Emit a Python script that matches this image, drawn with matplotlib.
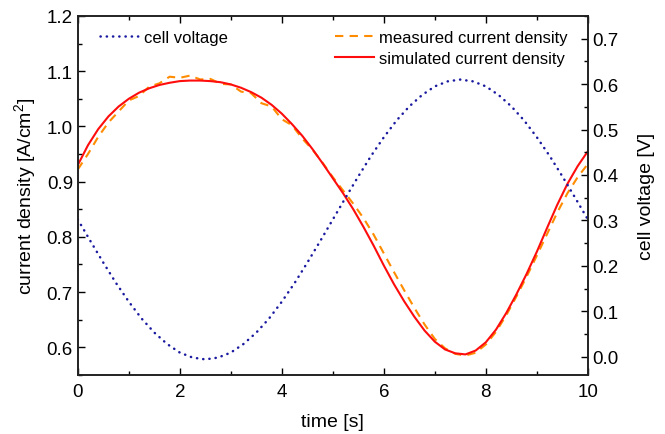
import matplotlib
matplotlib.use('Agg')
import matplotlib.pyplot as plt
from matplotlib.ticker import MultipleLocator

plt.rcParams['font.family'] = ['Liberation Sans', 'DejaVu Sans']
plt.rcParams['mathtext.fontset'] = 'custom'
plt.rcParams['mathtext.rm'] = 'Liberation Sans'
plt.rcParams['mathtext.it'] = 'Liberation Sans:italic'

# cell voltage [V], read every 0.25 s
t_volt = [0.0, 0.25, 0.5, 0.75, 1.0, 1.25, 1.5, 1.75, 2.0, 2.25, 2.5, 2.75, 3.0, 3.25,
          3.5, 3.75, 4.0, 4.25, 4.5, 4.75, 5.0, 5.25, 5.5, 5.75, 6.0, 6.25, 6.5, 6.75,
          7.0, 7.25, 7.5, 7.75, 8.0, 8.25, 8.5, 8.75, 9.0, 9.25, 9.5, 9.75, 10.0]
volt = [0.302, 0.254, 0.207, 0.162, 0.121, 0.084, 0.053, 0.028, 0.009, -0.002, -0.006,
        -0.002, 0.009, 0.028, 0.053, 0.084, 0.121, 0.162, 0.207, 0.254, 0.302, 0.350,
        0.397, 0.442, 0.483, 0.520, 0.551, 0.576, 0.595, 0.606, 0.610, 0.606, 0.595,
        0.576, 0.551, 0.520, 0.483, 0.442, 0.397, 0.350, 0.302]

# current density [A/cm2], read every 0.2 s
t_cd = [0.0, 0.2, 0.4, 0.6, 0.8, 1.0, 1.2, 1.4, 1.6, 1.8, 2.0, 2.2, 2.4, 2.6, 2.8, 3.0,
        3.2, 3.4, 3.6, 3.8, 4.0, 4.2, 4.4, 4.6, 4.8, 5.0, 5.2, 5.4, 5.6, 5.8, 6.0, 6.2,
        6.4, 6.6, 6.8, 7.0, 7.2, 7.4, 7.6, 7.8, 8.0, 8.2, 8.4, 8.6, 8.8, 9.0, 9.2, 9.4,
        9.6, 9.8, 10.0]
cd_sim = [0.930, 0.966, 0.995, 1.018, 1.036, 1.050, 1.061, 1.069, 1.075, 1.079, 1.082,
          1.083, 1.083, 1.082, 1.080, 1.076, 1.070, 1.062, 1.052, 1.039, 1.023, 1.004,
          0.983, 0.959, 0.933, 0.906, 0.879, 0.850, 0.818, 0.784, 0.748, 0.714, 0.683,
          0.655, 0.630, 0.610, 0.596, 0.589, 0.587, 0.594, 0.609, 0.632, 0.662, 0.696,
          0.733, 0.773, 0.816, 0.858, 0.896, 0.928, 0.955]
cd_meas = [0.922, 0.950, 0.981, 1.007, 1.027, 1.047, 1.055, 1.072, 1.078, 1.090, 1.088,
           1.092, 1.085, 1.086, 1.077, 1.076, 1.063, 1.060, 1.042, 1.036, 1.013, 1.002,
           0.978, 0.958, 0.934, 0.908, 0.884, 0.860, 0.834, 0.804, 0.770, 0.736, 0.703,
           0.671, 0.641, 0.615, 0.598, 0.588, 0.585, 0.590, 0.605, 0.628, 0.658, 0.692,
           0.728, 0.766, 0.805, 0.844, 0.879, 0.908, 0.932]

fig = plt.figure(figsize=(6.65, 4.35), dpi=100)
ax = fig.add_axes([0.117, 0.136, 0.767, 0.825])
ax2 = ax.twinx()

l_meas, = ax.plot(t_cd, cd_meas, color='#ff8c00', lw=1.5, dashes=(4, 3),
                  label='measured current density')
l_sim, = ax.plot(t_cd, cd_sim, color='#ff0d0d', lw=1.5, label='simulated current density')
l_volt, = ax2.plot(t_volt, volt, color='#1a1aa0', lw=1.8, linestyle=(0, (0.1, 2.4)),
                   dash_capstyle='round', label='cell voltage')

ax.set_xlim(0, 10)
ax.set_ylim(0.55, 1.2)
ax2.set_ylim(-0.04, 0.75)

ax.xaxis.set_major_locator(MultipleLocator(2))
ax.xaxis.set_minor_locator(MultipleLocator(1))
ax.yaxis.set_major_locator(MultipleLocator(0.1))
ax.yaxis.set_minor_locator(MultipleLocator(0.05))
ax2.yaxis.set_minor_locator(MultipleLocator(0.05))
ax.yaxis.set_major_formatter(plt.FormatStrFormatter('%.1f'))
ax2.yaxis.set_major_formatter(plt.FormatStrFormatter('%.1f'))
ax2.set_yticks([0.0, 0.1, 0.2, 0.3, 0.4, 0.5, 0.6, 0.7])

ax.tick_params(which='both', direction='in', top=True, right=False, labelsize=13.5, width=1)
ax.tick_params(which='major', length=5)
ax.tick_params(which='minor', length=3)
ax.tick_params(axis='x', pad=6)
ax2.tick_params(which='both', direction='in', labelsize=13.5, width=1)
ax2.tick_params(which='major', length=5)
ax2.tick_params(which='minor', length=3)
for a in (ax, ax2):
    for s in a.spines.values():
        s.set_linewidth(1.2)
        s.set_color('#222222')

ax.set_xlabel('time [s]', fontsize=14, labelpad=9)
ax.set_ylabel('current density [A/cm$^2$]', fontsize=14, labelpad=6)
ax2.set_ylabel('cell voltage [V]', fontsize=14, labelpad=14)

leg1 = ax2.legend(handles=[l_volt], loc='center left', bbox_to_anchor=(0.043, 0.941),
                  frameon=False, fontsize=12, handlelength=2.3, handletextpad=0.35,
                  borderpad=0, borderaxespad=0)
ax2.add_artist(leg1)
ax2.legend(handles=[l_meas, l_sim], loc='upper right', bbox_to_anchor=(0.961, 0.96),
           frameon=False, fontsize=12, handlelength=2.3, handletextpad=0.35,
           borderpad=0, borderaxespad=0, labelspacing=0.35)

fig.savefig('out.png', dpi=100)
